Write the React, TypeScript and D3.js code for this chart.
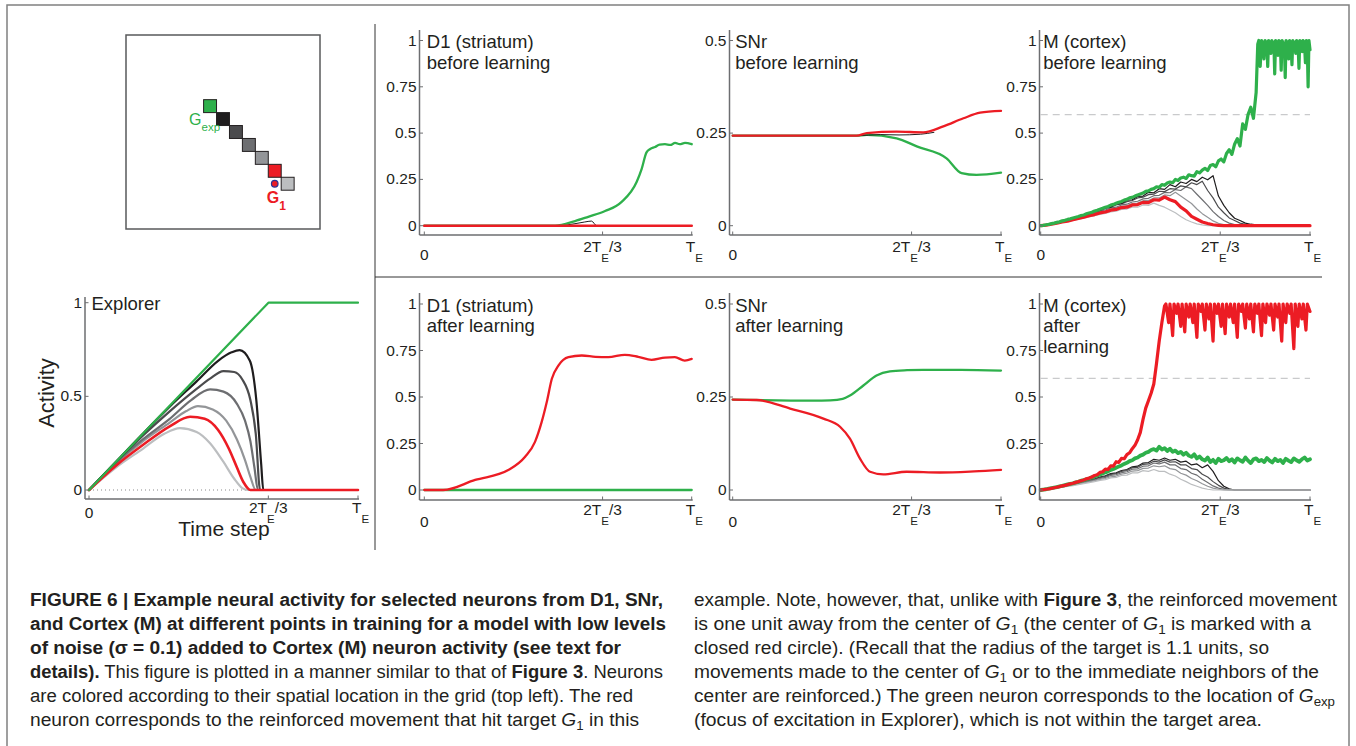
// App.tsx
// neural activity figure: grid inset, Explorer, and D1 / SNr / M before and after learning
import React from 'react';
import * as d3 from 'd3';

const INK = '#231f20';
const AXIS = '#6d6e71';
const FONT = '"Liberation Sans", Arial, Helvetica, sans-serif';

const cGreen = '#2eb04b';
const cRed = '#ec1c24';
const cBlack = '#1f1d1e';
const cGray1 = '#4b4b4d';
const cGray2 = '#6d6e71';
const cGray3 = '#939598';
const cGray4 = '#bcbec0';

// grid inset: cells of the 7 plotted neurons (15 x 15 grid)
const gridSize = 15;
const gridCols = [6, 7, 8, 9, 10, 11, 12];
const gridRows = [5, 6, 7, 8, 9, 10, 11];
const gridColors = [cGreen, cBlack, cGray1, cGray2, cGray3, cRed, cGray4];
const targetCenter = [11.5, 11.5];

// x axis: time as a fraction of T_E
const xTicks = [0, 2 / 3, 1];
const xTickNames = ['0', '2TE/3', 'TE'];

// ---- Explorer (smooth curves, t / value pairs)
const exGreenT = [0, 0.667, 1];
const exGreenV = [0, 1, 1];
const exBlackT = [0, 0.1, 0.2, 0.3, 0.4, 0.48, 0.53, 0.56, 0.598, 0.622, 0.64, 0.648, 1];
const exBlackV = [0, 0.15, 0.3, 0.445, 0.58, 0.69, 0.735, 0.747, 0.69, 0.48, 0.14, 0, 0];
const exGray1T = [0, 0.1, 0.2, 0.3, 0.4, 0.45, 0.5, 0.54, 0.57, 0.6, 0.62, 0.636, 1];
const exGray1V = [0, 0.15, 0.29, 0.42, 0.54, 0.595, 0.635, 0.63, 0.59, 0.48, 0.3, 0, 0];
const exGray2T = [0, 0.1, 0.2, 0.3, 0.38, 0.45, 0.5, 0.55, 0.58, 0.6, 0.615, 0.628, 1];
const exGray2V = [0, 0.145, 0.27, 0.38, 0.48, 0.537, 0.525, 0.46, 0.37, 0.26, 0.12, 0, 0];
const exGray3T = [0, 0.1, 0.2, 0.3, 0.36, 0.405, 0.46, 0.51, 0.55, 0.58, 0.6, 0.62, 1];
const exGray3V = [0, 0.14, 0.26, 0.36, 0.42, 0.448, 0.43, 0.37, 0.27, 0.16, 0.07, 0, 0];
const exRedT = [0, 0.1, 0.2, 0.3, 0.376, 0.43, 0.48, 0.52, 0.55, 0.575, 0.6, 1];
const exRedV = [0, 0.13, 0.24, 0.34, 0.391, 0.38, 0.32, 0.22, 0.12, 0.04, 0, 0];
const exGray4T = [0, 0.1, 0.2, 0.28, 0.338, 0.4, 0.45, 0.5, 0.54, 0.57, 0.59, 1];
const exGray4V = [0, 0.12, 0.22, 0.3, 0.33, 0.31, 0.25, 0.15, 0.06, 0.01, 0, 0];

// ---- D1 before
const d1bGreenT = [0, 0.489, 0.564, 0.613, 0.676, 0.738, 0.794, 0.813, 0.831, 0.845, 0.863, 0.88, 0.9, 0.92, 0.938, 0.955, 0.975, 1];
const d1bGreenV = [0, 0, 0.025, 0.048, 0.079, 0.129, 0.236, 0.307, 0.396, 0.414, 0.425, 0.438, 0.44, 0.436, 0.447, 0.44, 0.447, 0.44];
const d1bBlackT = [0, 0.5, 0.56, 0.6, 0.625, 0.645, 1];
const d1bBlackV = [0, 0, 0.01, 0.02, 0.025, 0, 0];
const d1bRedT = [0, 1];
const d1bRedV = [0, 0];

// ---- D1 after
const d1aRedT = [0, 0.071, 0.19, 0.314, 0.377, 0.414, 0.439, 0.458, 0.477, 0.502, 0.539, 0.589, 0.64, 0.688, 0.75, 0.8, 0.85, 0.9, 0.937, 0.974, 1];
const d1aRedV = [0, 0, 0.054, 0.107, 0.179, 0.259, 0.366, 0.473, 0.598, 0.67, 0.714, 0.723, 0.716, 0.714, 0.727, 0.716, 0.7, 0.712, 0.714, 0.696, 0.705];
const d1aGreenT = [0, 1];
const d1aGreenV = [0, 0];

// ---- SNr before
const snbRedT = [0, 0.462, 0.5, 0.611, 0.71, 0.785, 0.86, 0.922, 1];
const snbRedV = [0.243, 0.243, 0.25, 0.254, 0.252, 0.268, 0.29, 0.305, 0.31];
const snbGreenT = [0, 0.462, 0.5, 0.611, 0.686, 0.797, 0.853, 0.909, 1];
const snbGreenV = [0.243, 0.243, 0.245, 0.236, 0.214, 0.182, 0.142, 0.137, 0.143];
const snbBlackT = [0, 0.462, 0.55, 0.62, 0.7, 0.75];
const snbBlackV = [0.243, 0.243, 0.246, 0.245, 0.247, 0.252];

// ---- SNr after
const snaGreenT = [0, 0.3, 0.363, 0.41, 0.437, 0.487, 0.536, 0.586, 0.65, 0.71, 0.85, 1];
const snaGreenV = [0.243, 0.24, 0.241, 0.245, 0.254, 0.281, 0.308, 0.319, 0.322, 0.323, 0.323, 0.321];
const snaRedT = [0, 0.089, 0.214, 0.338, 0.4, 0.437, 0.474, 0.512, 0.561, 0.648, 0.773, 0.9, 1];
const snaRedV = [0.243, 0.242, 0.219, 0.192, 0.17, 0.138, 0.085, 0.049, 0.042, 0.049, 0.047, 0.05, 0.054];

// ---- M before: rise sampled every 0.01 T_E, then the saturated part as (t, v) pairs
const mbGreenRise = [
  0, .002, .005, .007, .011, .014, .018, .021, .026, .029,
  .034, .037, .042, .046, .05, .055, .058, .064, .069, .073,
  .079, .083, .089, .094, .1, .104, .111, .115, .121, .127,
  .131, .138, .142, .15, .153, .16, .166, .171, .176, .185,
  .188, .196, .2, .21, .207, .222, .218, .23, .236, .232,
  .25, .244, .258, .262, .255, .275, .27, .268, .292, .285,
  .3, .31, .298, .325, .33, .318, .35, .36, .345, .39,
  .41, .385, .44, .47, .43, .55, .52, .6, .64, .58,
  .72];
const mbGreenTopT = [0.806, 0.81, 0.815, 0.82, 0.826, 0.829, 0.833, 0.84, 0.843, 0.846, 0.852, 0.855, 0.858, 0.866, 0.869, 0.872,
  0.878, 0.881, 0.884, 0.89, 0.893, 0.896, 0.905, 0.908, 0.911, 0.918, 0.921, 0.924, 0.93, 0.933, 0.936, 0.944, 0.947, 0.95,
  0.956, 0.959, 0.962, 0.968, 0.971, 0.974, 0.98, 0.983, 0.986, 0.99, 0.993, 0.996, 1];
const mbGreenTopV = [0.98, 1, 0.86, 1, 0.97, 0.9, 1, 0.98, 0.86, 1, 0.97, 0.93, 1, 0.98, 0.82, 1,
  0.97, 0.92, 1, 0.98, 0.84, 1, 0.97, 0.8, 1, 0.98, 0.9, 1, 0.97, 0.87, 1, 0.98, 0.93, 1,
  0.97, 0.85, 1, 0.98, 0.94, 1, 0.97, 0.88, 1, 0.96, 0.75, 1, 0.95];
const mbBlack = [
  0, .004, .012, .016, .027, .03, .042, .046, .058, .064,
  .078, .082, .098, .1, .118, .12, .138, .14, .158, .16,
  .18, .178, .2, .196, .222, .21, .236, .228, .25, .238,
  .262, .248, .27, .16, .11, .07, .04, .028, .014, .008,
  .004, .002, 0, 0, 0, 0, 0, 0, 0, 0, 0];
const mbGray1 = [
  0, .004, .01, .017, .024, .031, .039, .047, .056, .064,
  .074, .082, .093, .1, .112, .118, .13, .136, .15, .154,
  .168, .17, .186, .184, .2, .198, .215, .21, .232, .222,
  .24, .19, .15, .1, .07, .042, .028, .014, .008, .003,
  0, 0, 0, 0, 0, 0, 0, 0, 0, 0, 0];
const mbGray2 = [
  0, .004, .009, .016, .022, .03, .036, .045, .052, .062,
  .068, .079, .085, .096, .1, .112, .116, .128, .132, .145,
  .148, .162, .164, .18, .178, .195, .19, .21, .2, .17,
  .14, .11, .076, .05, .028, .014, .006, .002, 0, 0,
  0, 0, 0, 0, 0, 0, 0, 0, 0, 0, 0];
const mbGray3 = [
  0, .003, .009, .014, .021, .028, .034, .043, .049, .058,
  .064, .074, .079, .09, .094, .105, .108, .12, .122, .135,
  .136, .15, .15, .166, .162, .18, .16, .14, .12, .09,
  .065, .045, .026, .013, .006, .002, 0, 0, 0, 0,
  0, 0, 0, 0, 0, 0, 0, 0, 0, 0, 0];
const mbRed = [
  0, .003, .008, .013, .02, .025, .032, .039, .046, .054,
  .06, .069, .074, .084, .088, .098, .1, .112, .114, .126,
  .125, .14, .138, .155, .14, .13, .1, .08, .05, .035,
  .02, .012, .005, .002, 0, 0, 0, 0, 0, 0,
  0, 0, 0, 0, 0, 0, 0, 0, 0, 0, 0];
const mbGray4 = [
  0, .003, .007, .012, .018, .023, .029, .035, .041, .048,
  .054, .061, .066, .075, .078, .088, .09, .1, .1, .112,
  .11, .122, .11, .1, .085, .07, .05, .032, .02, .01,
  .004, 0, 0, 0, 0, 0, 0, 0, 0, 0,
  0, 0, 0, 0, 0, 0, 0, 0, 0, 0, 0];

// ---- M after
const maRedRise = [
  0, .002, .004, .006, .009, .012, .015, .018, .022, .025,
  .029, .033, .036, .041, .045, .05, .054, .06, .064, .07,
  .078, .082, .095, .098, .112, .11, .13, .128, .152, .148,
  .17, .168, .19, .2, .222, .24, .27, .31, .38, .44,
  .48, .52, .57, .68, .8, .9, .99];
const maRedTopT = [0.465, 0.475, 0.48, 0.49, 0.495, 0.505, 0.51, 0.52, 0.525, 0.535, 0.54, 0.55, 0.555, 0.565, 0.57,
  0.58, 0.585, 0.595, 0.6, 0.61, 0.615, 0.625, 0.63, 0.64, 0.645, 0.655, 0.66, 0.67, 0.675, 0.685, 0.69, 0.7, 0.705,
  0.715, 0.72, 0.73, 0.735, 0.745, 0.75, 0.76, 0.765, 0.775, 0.78, 0.79, 0.795, 0.805, 0.81, 0.82, 0.825, 0.835, 0.84,
  0.85, 0.855, 0.865, 0.87, 0.88, 0.885, 0.895, 0.9, 0.91, 0.915, 0.925, 0.93, 0.94, 0.945, 0.955, 0.96, 0.97, 0.975,
  0.985, 0.99, 1];
const maRedTopV = [1, 0.9, 1, 0.83, 1, 0.95, 1, 0.88, 1, 0.85, 1, 0.93, 1, 0.9, 1,
  0.82, 1, 0.96, 1, 0.86, 1, 0.92, 1, 0.8, 1, 0.95, 1, 0.88, 1, 0.84, 1, 0.93, 1,
  0.9, 1, 0.82, 1, 0.96, 1, 0.87, 1, 0.92, 1, 0.85, 1, 0.95, 1, 0.83, 1, 0.9, 1,
  0.94, 1, 0.86, 1, 0.93, 1, 0.8, 1, 0.9, 1, 0.95, 1, 0.76, 1, 0.88, 1, 0.92, 1,
  0.86, 1, 0.96];
const maGreen = [
  0, .002, .004, .007, .01, .013, .016, .019, .022, .026,
  .03, .033, .036, .041, .044, .05, .053, .058, .062, .068,
  .072, .078, .083, .089, .095, .1, .108, .113, .12, .126,
  .132, .14, .146, .155, .16, .17, .175, .185, .19, .2,
  .205, .215, .22, .212, .232, .218, .225, .21, .222, .205,
  .212, .198, .205, .19, .2, .185, .178, .192, .17, .18,
  .165, .158, .175, .15, .162, .145, .168, .155, .16, .172,
  .155, .165, .148, .17, .16, .152, .175, .158, .145, .165,
  .17, .155, .162, .15, .172, .158, .148, .168, .155, .162,
  .145, .168, .158, .15, .17, .16, .152, .165, .175, .158,
  .165];
const maBlack = [
  0, .003, .008, .014, .02, .027, .032, .04, .046, .055,
  .06, .07, .076, .088, .092, .105, .11, .125, .128, .145,
  .148, .165, .16, .172, .16, .165, .15, .155, .135, .14,
  .12, .135, .1, .05, .02, .006, 0, 0, 0, 0,
  0, 0, 0, 0, 0, 0, 0, 0, 0, 0, 0];
const maGray1 = [
  0, .003, .008, .013, .019, .025, .031, .038, .044, .052,
  .058, .067, .073, .084, .088, .1, .105, .12, .122, .138,
  .14, .155, .15, .162, .15, .152, .135, .135, .115, .11,
  .085, .07, .045, .025, .01, .003, 0, 0, 0, 0,
  0, 0, 0, 0, 0, 0, 0, 0, 0, 0, 0];
const maGray2 = [
  0, .003, .007, .012, .018, .023, .029, .035, .041, .048,
  .054, .062, .068, .078, .082, .093, .098, .112, .114, .128,
  .13, .145, .14, .15, .135, .135, .115, .11, .09, .08,
  .058, .04, .022, .01, .003, 0, 0, 0, 0, 0,
  0, 0, 0, 0, 0, 0, 0, 0, 0, 0, 0];
const maGray3 = [
  0, .003, .007, .011, .016, .021, .027, .032, .038, .044,
  .05, .057, .062, .071, .075, .085, .09, .102, .104, .116,
  .118, .13, .125, .13, .115, .11, .09, .08, .062, .05,
  .034, .02, .01, .004, 0, 0, 0, 0, 0, 0,
  0, 0, 0, 0, 0, 0, 0, 0, 0, 0, 0];
const maGray4 = [
  0, .002, .006, .01, .015, .019, .024, .029, .034, .04,
  .045, .052, .056, .065, .068, .078, .08, .092, .092, .104,
  .1, .11, .1, .1, .085, .075, .058, .045, .03, .02,
  .01, .004, 0, 0, 0, 0, 0, 0, 0, 0,
  0, 0, 0, 0, 0, 0, 0, 0, 0, 0, 0];

type Series = { v: number[]; t?: number[]; color: string; w: number; smooth?: boolean };

type PanelCfg = {
  x0: number; x1: number; y0: number; yTop: number; yMax: number;
  axisX: number; axisY: number; axisTop: number;
  yTicks: number[]; yLabels: string[];
  title: string[]; series: Series[];
  threshold?: number; zeroDots?: boolean;
  lab: number[];
};

// evenly spaced time steps over [0, T_E]
const steps = (n: number) => d3.range(n).map(i => i / (n - 1));
// time steps of 0.01 T_E from 0
const hundredths = (n: number) => d3.range(n).map(i => i / 100);

function XLabel({ name, x, y0, lab }: { name: string; x: number; y0: number; lab: number[] }) {
  if (name === '0')
    return <text x={x} y={y0 + lab[0]} textAnchor="middle">0</text>;
  if (name === 'TE')
    return (
      <text x={x - 6} y={y0 + lab[1]}>
        T<tspan dy={lab[2]} fontSize={11.5}>E</tspan>
      </text>
    );
  return (
    <text x={x} y={y0 + lab[1]} textAnchor="middle">
      2T<tspan dy={lab[2]} fontSize={11.5}>E</tspan><tspan dy={-lab[2]}>/3</tspan>
    </text>
  );
}

function Panel({ cfg }: { cfg: PanelCfg }) {
  const x = d3.scaleLinear().domain([0, 1]).range([cfg.x0, cfg.x1]);
  const y = d3.scaleLinear().domain([0, cfg.yMax]).range([cfg.y0, cfg.yTop]);
  return (
    <g fontFamily={FONT} fill={INK}>
      {cfg.zeroDots && (
        <line x1={x(0)} x2={x(0.62)} y1={y(0)} y2={y(0)} stroke="#8a8a8a" strokeWidth={1} strokeDasharray="1 3" />
      )}
      {cfg.threshold !== undefined && (
        <line x1={x(0)} x2={x(1)} y1={y(cfg.threshold)} y2={y(cfg.threshold)}
          stroke="#c9cacc" strokeWidth={1.3} strokeDasharray="7 5" />
      )}
      {cfg.series.map((s, i) => {
        const ts = s.t ?? steps(s.v.length);
        const line = d3.line<number>()
          .x((_, j) => x(ts[j]))
          .y(d => y(d))
          .curve(s.smooth ? d3.curveMonotoneX : d3.curveLinear);
        return <path key={i} d={line(s.v) ?? ''} fill="none" stroke={s.color}
          strokeWidth={s.w} strokeLinejoin="round" strokeLinecap="round" />;
      })}
      {/* axes */}
      <line x1={cfg.axisX} x2={cfg.axisX} y1={cfg.axisTop} y2={cfg.axisY} stroke={AXIS} strokeWidth={1.5} />
      <line x1={cfg.axisX} x2={x(1) + 1} y1={cfg.axisY} y2={cfg.axisY} stroke={AXIS} strokeWidth={1.5} />
      {cfg.yTicks.map((v, i) => (
        <g key={'y' + i}>
          <line x1={cfg.axisX} x2={cfg.axisX + 3.5} y1={y(v)} y2={y(v)} stroke={AXIS} strokeWidth={1} />
          <text x={cfg.axisX - 3} y={y(v) + 5} textAnchor="end" fontSize={15.5}>{cfg.yLabels[i]}</text>
        </g>
      ))}
      {xTicks.map((t, i) => (
        <g key={'x' + i} fontSize={15.5}>
          <line x1={x(t)} x2={x(t)} y1={cfg.axisY} y2={cfg.axisY - 3.5} stroke={AXIS} strokeWidth={1} />
          <XLabel name={xTickNames[i]} x={x(t)} y0={cfg.y0} lab={cfg.lab} />
        </g>
      ))}
      {cfg.title.map((s, i) => (
        <text key={'t' + i} x={cfg.x0 + 2.5} y={y(cfg.yMax) + 7.5 + i * 20.5} fontSize={18.5}>{s}</text>
      ))}
    </g>
  );
}

type Seg = [string, string];
const G1: Seg[] = [['G', 'i'], ['1', 'sub']];

const capLeft: Seg[][] = [
  [['FIGURE 6 | Example neural activity for selected neurons from D1, SNr,', 'b']],
  [['and Cortex (M) at different points in training for a model with low levels', 'b']],
  [['of noise (σ = 0.1) added to Cortex (M) neuron activity (see text for', 'b']],
  [['details).', 'b'], [' This figure is plotted in a manner similar to that of ', ''], ['Figure 3', 'b'], ['. Neurons', '']],
  [['are colored according to their spatial location in the grid (top left). The red', '']],
  [['neuron corresponds to the reinforced movement that hit target ', ''], ...G1, [' in this', '']],
];
const capRight: Seg[][] = [
  [['example. Note, however, that, unlike with ', ''], ['Figure 3', 'b'], [', the reinforced movement', '']],
  [['is one unit away from the center of ', ''], ...G1, [' (the center of ', ''], ...G1, [' is marked with a', '']],
  [['closed red circle). (Recall that the radius of the target is 1.1 units, so', '']],
  [['movements made to the center of ', ''], ...G1, [' or to the immediate neighbors of the', '']],
  [['center are reinforced.) The green neuron corresponds to the location of ', ''], ['G', 'i'], ['exp', 'sub']],
  [['(focus of excitation in Explorer), which is not within the target area.', '']],
];
const capLeftW = [633, 636, 591, 633, 603, 609];
const capRightW = [643, 617, 575, 625, 641, 568];

function CaptionLine({ segs, x, y, w }: { segs: Seg[]; x: number; y: number; w: number }) {
  let up = 0;
  const parts = segs.map(([s, st], i) => {
    const props: any = {};
    if (st === 'b') props.fontWeight = 'bold';
    if (st === 'i') props.fontStyle = 'italic';
    if (st === 'sub') { props.fontSize = 12.5; props.dy = 4; }
    else if (up) props.dy = -up;
    up = st === 'sub' ? 4 : 0;
    return <tspan key={i} {...props}>{s}</tspan>;
  });
  return (
    <text x={x} y={y} textLength={w} lengthAdjust="spacingAndGlyphs" style={{ whiteSpace: 'pre' }}>
      {parts}
    </text>
  );
}

function GridInset() {
  const gx = d3.scaleLinear().domain([0, gridSize]).range([126, 320]);
  const gy = d3.scaleLinear().domain([0, gridSize]).range([35, 229]);
  const cell = gx(1) - gx(0);
  return (
    <g fontFamily={FONT}>
      <rect x={gx(0)} y={gy(0)} width={gx(gridSize) - gx(0)} height={gy(gridSize) - gy(0)}
        fill="none" stroke="#58595b" strokeWidth={1.5} />
      {gridCols.map((c, i) => (
        <rect key={i} x={gx(c)} y={gy(gridRows[i])} width={cell} height={cell}
          fill={gridColors[i]} stroke={INK} strokeWidth={1} />
      ))}
      <circle cx={gx(targetCenter[0])} cy={gy(targetCenter[1])} r={3.3} fill={cRed} stroke="#2e3192" strokeWidth={1.2} />
      <text x={gx(gridCols[0]) - 14.5} y={gy(gridRows[0]) + 25.5} fill={cGreen} fontSize={16}>
        G<tspan dy={6} fontSize={11.5}>exp</tspan>
      </text>
      <text x={gx(targetCenter[0]) - 8} y={gy(targetCenter[1]) + 19.5} fill={cRed} fontSize={16} fontWeight="bold">
        G<tspan dy={7} fontSize={12}>1</tspan>
      </text>
    </g>
  );
}

export default function App() {
  const gSeries = (v: number[], color: string, w: number) => ({ v, color, w });
  const explorer: PanelCfg = {
    x0: 89, x1: 358, y0: 490, yTop: 302.7, yMax: 1,
    axisX: 85, axisY: 499, axisTop: 297,
    yTicks: [0, 0.5, 1], yLabels: ['0', '0.5', '1'],
    title: ['Explorer'], zeroDots: true, lab: [28, 23, 10],
    series: [
      { t: exGray4T, v: exGray4V, color: cGray4, w: 2.2, smooth: true },
      { t: exGray3T, v: exGray3V, color: cGray3, w: 2.2, smooth: true },
      { t: exGray2T, v: exGray2V, color: cGray2, w: 2.2, smooth: true },
      { t: exGray1T, v: exGray1V, color: cGray1, w: 2.2, smooth: true },
      { t: exBlackT, v: exBlackV, color: cBlack, w: 2.2, smooth: true },
      { t: exRedT, v: exRedV, color: cRed, w: 2.6, smooth: true },
      { t: exGreenT, v: exGreenV, color: cGreen, w: 2.2 },
    ],
  };
  const top = { y0: 225.7, yTop: 40.5, axisY: 235, axisTop: 30, lab: [34, 26, 10] };
  const bot = { y0: 490, yTop: 304, axisY: 500, axisTop: 293, lab: [36.5, 25, 10] };
  const d1 = { x0: 424.3, x1: 691.7, axisX: 419.5, yMax: 1, yTicks: [0, 0.25, 0.5, 0.75, 1], yLabels: ['0', '0.25', '0.5', '0.75', '1'] };
  const sn = { x0: 732.7, x1: 1001, axisX: 729.5, yMax: 0.5, yTicks: [0, 0.25, 0.5], yLabels: ['0', '0.25', '0.5'] };
  const mm = { x0: 1040.7, x1: 1310, axisX: 1039.5, yMax: 1, yTicks: [0, 0.25, 0.5, 0.75, 1], yLabels: ['0', '0.25', '0.5', '0.75', '1'], threshold: 0.6 };

  const mbGreen: Series = {
    t: [...hundredths(mbGreenRise.length), ...mbGreenTopT],
    v: [...mbGreenRise, ...mbGreenTopV], color: cGreen, w: 3.2,
  };
  const maRed: Series = {
    t: [...hundredths(maRedRise.length), ...maRedTopT],
    v: [...maRedRise, ...maRedTopV], color: cRed, w: 3.2,
  };

  const panels: PanelCfg[] = [
    { ...d1, ...top, title: ['D1 (striatum)', 'before learning'], series: [
      { t: d1bBlackT, v: d1bBlackV, color: cBlack, w: 1, smooth: true },
      { t: d1bGreenT, v: d1bGreenV, color: cGreen, w: 2.3, smooth: true },
      { t: d1bRedT, v: d1bRedV, color: cRed, w: 2.6 },
    ] },
    { ...sn, ...top, title: ['SNr', 'before learning'], series: [
      { t: snbGreenT, v: snbGreenV, color: cGreen, w: 2.3, smooth: true },
      { t: snbBlackT, v: snbBlackV, color: cBlack, w: 1, smooth: true },
      { t: snbRedT, v: snbRedV, color: cRed, w: 2.3, smooth: true },
    ] },
    { ...mm, ...top, title: ['M (cortex)', 'before learning'], series: [
      gSeries(mbGray4, cGray4, 1.2), gSeries(mbGray3, cGray3, 1.2), gSeries(mbGray2, cGray2, 1.2),
      gSeries(mbGray1, cGray1, 1.2), gSeries(mbBlack, cBlack, 1.2),
      gSeries(mbRed, cRed, 3.2), mbGreen,
    ] },
    { ...d1, ...bot, title: ['D1 (striatum)', 'after learning'], series: [
      { t: d1aGreenT, v: d1aGreenV, color: cGreen, w: 2.3 },
      { t: d1aRedT, v: d1aRedV, color: cRed, w: 2.3, smooth: true },
    ] },
    { ...sn, ...bot, title: ['SNr', 'after learning'], series: [
      { t: snaGreenT, v: snaGreenV, color: cGreen, w: 2.3, smooth: true },
      { t: snaRedT, v: snaRedV, color: cRed, w: 2.3, smooth: true },
    ] },
    { ...mm, ...bot, title: ['M (cortex)', 'after', 'learning'], series: [
      gSeries(maBlack, cBlack, 1.2), gSeries(maGray1, cGray1, 1.2), gSeries(maGray2, cGray2, 1.2),
      gSeries(maGray3, cGray3, 1.2), gSeries(maGray4, cGray4, 1.2),
      gSeries(maGreen, cGreen, 3.8), maRed,
    ] },
  ];

  return (
    <svg width={1356} height={746} style={{ position: 'absolute', left: 0, top: 0, background: '#fff' }}>
      <rect x={7} y={5} width={1342} height={800} fill="none" stroke="#808080" strokeWidth={1.5} />
      <line x1={375} x2={375} y1={24} y2={550} stroke="#333" strokeWidth={1} />
      <line x1={375} x2={1322} y1={277} y2={277} stroke="#333" strokeWidth={1} />

      <GridInset />
      <Panel cfg={explorer} />
      <g fontFamily={FONT} fill={INK}>
        <text transform="translate(54,393) rotate(-90)" textAnchor="middle" fontSize={22}>Activity</text>
        <text x={224} y={536} textAnchor="middle" fontSize={21}>Time step</text>
      </g>
      {panels.map((p, i) => <Panel key={i} cfg={p} />)}

      <g fontFamily={'"Liberation Sans Narrow", "Arial Narrow", "Liberation Sans", Arial, sans-serif'} fontSize={18} fill={INK}>
        {capLeft.map((segs, i) => (
          <CaptionLine key={'l' + i} segs={segs} x={30} y={606 + i * 24} w={capLeftW[i]} />
        ))}
        {capRight.map((segs, i) => (
          <CaptionLine key={'r' + i} segs={segs} x={694} y={606 + i * 24} w={capRightW[i]} />
        ))}
      </g>
    </svg>
  );
}
